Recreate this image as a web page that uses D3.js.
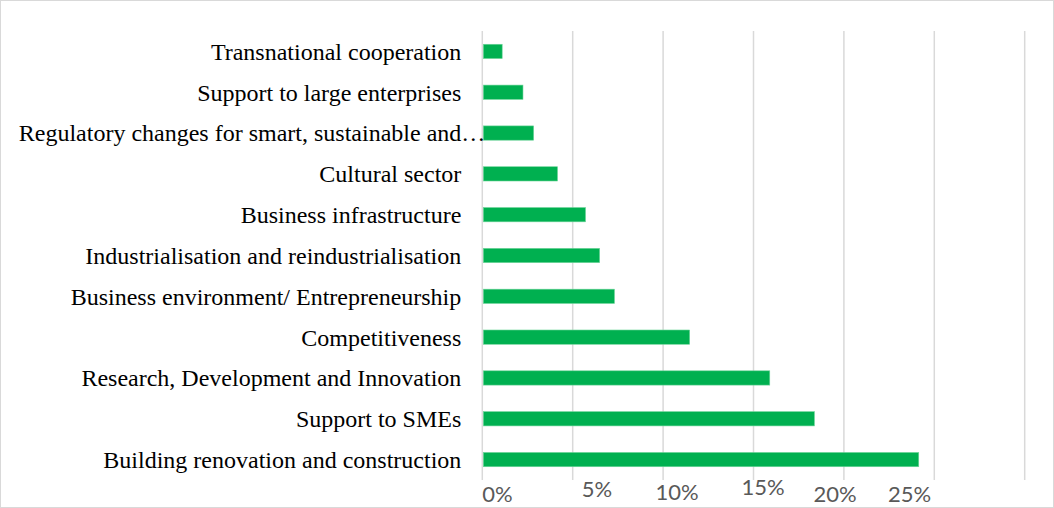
<!DOCTYPE html>
<html>
<head>
<meta charset="utf-8">
<script src="https://cdn.jsdelivr.net/npm/d3@7"></script>
<style>
  html, body { margin: 0; padding: 0; background: #fff; }
  svg { display: block; }
</style>
</head>
<body>
<svg id="chart" width="1054" height="508"></svg>
<script>
// ---- data ----
const categories = [
  "Transnational cooperation",
  "Support to large enterprises",
  "Regulatory changes for smart, sustainable and\u2026",
  "Cultural sector",
  "Business infrastructure",
  "Industrialisation and reindustrialisation",
  "Business environment/ Entrepreneurship",
  "Competitiveness",
  "Research, Development and Innovation",
  "Support to SMEs",
  "Building renovation and construction"
];
const values = [0.011, 0.0225, 0.0284, 0.0416, 0.0571, 0.0649, 0.0731, 0.1147, 0.159, 0.1837, 0.2414];
const tickValues = [0, 0.05, 0.10, 0.15, 0.20, 0.25];
const tickLabels = ["0%", "5%", "10%", "15%", "20%", "25%"];
const gridValues = [0, 0.05, 0.10, 0.15, 0.20, 0.25, 0.30];

// ---- layout ----
const W = 1054, H = 508;
const plot = { left: 482.3, right: 1024.7, top: 31, bottom: 480 };
// nudges of tick labels as drawn in the reference (dx, y-center)
const tickNudgeX = [14.7, 23.8, 13.4, 9, -9.4, -25.3];
const tickCenterY = [494.5, 489.5, 492, 487, 494, 494.5];

const svg = d3.select("#chart");

// outer border
svg.append("rect")
  .attr("x", 0.5).attr("y", 0.5)
  .attr("width", W - 1).attr("height", H - 1)
  .attr("fill", "#fff").attr("stroke", "#d9d9d9").attr("stroke-width", 1);

const x = d3.scaleLinear().domain([0, 0.30]).range([plot.left, plot.right]);
const y = d3.scaleBand().domain(categories)
  .range([plot.top, plot.bottom]).paddingInner(0.65).paddingOuter(0.325);

// gridlines
svg.append("g").selectAll("line").data(gridValues).join("line")
  .attr("x1", d => x(d)).attr("x2", d => x(d))
  .attr("y1", plot.top).attr("y2", plot.bottom)
  .attr("stroke", "#d9d9d9").attr("stroke-width", 1.5);

// bars
svg.append("g").selectAll("rect").data(values).join("rect")
  .attr("x", x(0) + 1)
  .attr("y", (d, i) => y(categories[i]))
  .attr("width", d => x(d) - x(0) - 1)
  .attr("height", y.bandwidth())
  .attr("fill", "#00b050")
  .attr("stroke", "#6fd59a").attr("stroke-width", 0.6);

// category labels (a trailing ellipsis hangs past the label edge, as in the reference)
const labelRight = x(0) - 21;
const labels = svg.append("g").selectAll("text").data(categories).join("text")
  .attr("y", d => y(d) + y.bandwidth() / 2)
  .attr("dy", "0.35em")
  .attr("text-anchor", "end")
  .attr("font-family", "'Liberation Serif', 'Times New Roman', serif")
  .attr("font-size", 24)
  .attr("fill", "#000")
  .text(d => d);

const probe = svg.append("text")
  .attr("font-family", "'Liberation Serif', 'Times New Roman', serif")
  .attr("font-size", 24).text("\u2026");
const ellW = probe.node().getComputedTextLength();
probe.remove();
labels.attr("x", d => d.endsWith("\u2026") ? labelRight + ellW : labelRight);

// x tick labels
const xAxis = d3.axisBottom(x).tickValues(tickValues)
  .tickFormat((d, i) => tickLabels[i]).tickSize(0);
const ax = svg.append("g").call(xAxis);
ax.select(".domain").remove();
ax.selectAll(".tick text")
  .attr("x", (d, i) => tickNudgeX[i])
  .attr("y", (d, i) => tickCenterY[i])
  .attr("dy", "0.35em")
  .attr("text-anchor", "middle")
  .attr("font-family", "Lato, 'Open Sans', sans-serif")
  .attr("font-size", 22)
  .attr("fill", "#595959");
</script>
</body>
</html>
